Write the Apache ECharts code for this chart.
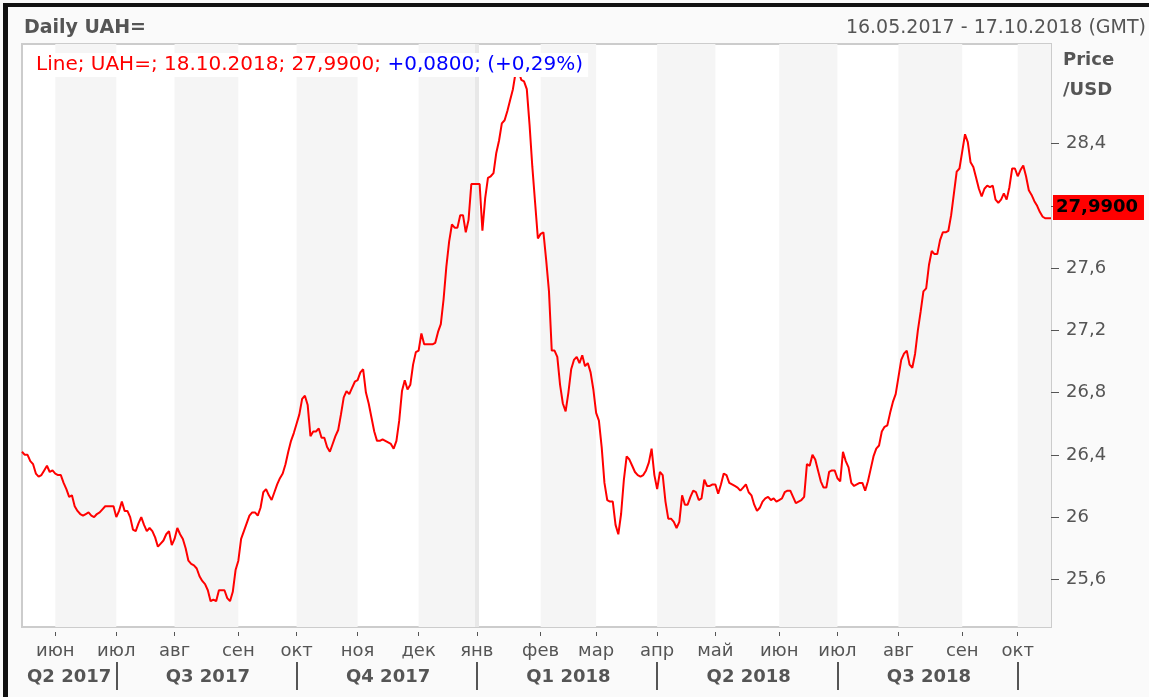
<!DOCTYPE html>
<html>
<head>
<meta charset="utf-8">
<title>Daily UAH=</title>
<script src="https://cdn.jsdelivr.net/npm/echarts@6/dist/echarts.min.js"></script>
<style>
  html, body { margin: 0; padding: 0; background: #fff; }
  #chart { width: 1149px; height: 697px; }
</style>
</head>
<body>
<div id="chart"></div>
<script>
// range shown on the chart (weekdays only)
const startDate = '2017-05-16';
const endDate = '2018-10-17';

const monthNames = ['янв', 'фев', 'мар', 'апр', 'май', 'июн', 'июл', 'авг', 'сен', 'окт', 'ноя', 'дек'];

// daily closes, UAH per USD
const rates = [
  26.42, 26.40, 26.40, 26.36, 26.34, 26.28, 26.26, 26.27, 26.30, 26.33,
  26.29, 26.30, 26.28, 26.27, 26.27, 26.22, 26.18, 26.13, 26.14, 26.07,
  26.04, 26.02, 26.01, 26.02, 26.03, 26.01, 26.00, 26.02, 26.03, 26.05,
  26.07, 26.07, 26.07, 26.07, 26.00, 26.04, 26.10, 26.04, 26.04, 26.00,
  25.92, 25.91, 25.96, 26.00, 25.95, 25.91, 25.93, 25.91, 25.87, 25.81,
  25.83, 25.85, 25.89, 25.91, 25.82, 25.86, 25.93, 25.89, 25.86, 25.80,
  25.72, 25.70, 25.69, 25.67, 25.62, 25.59, 25.57, 25.53, 25.46, 25.47,
  25.46, 25.53, 25.53, 25.53, 25.48, 25.46, 25.52, 25.66, 25.72, 25.86,
  25.91, 25.96, 26.01, 26.03, 26.03, 26.01, 26.06, 26.16, 26.18, 26.14,
  26.11, 26.16, 26.21, 26.25, 26.28, 26.34, 26.42, 26.49, 26.54, 26.60,
  26.66, 26.76, 26.78, 26.72, 26.52, 26.55, 26.55, 26.57, 26.51, 26.51,
  26.45, 26.42, 26.47, 26.52, 26.56, 26.66, 26.77, 26.81, 26.79, 26.83,
  26.87, 26.88, 26.93, 26.95, 26.80, 26.73, 26.64, 26.55, 26.49, 26.49,
  26.50, 26.49, 26.48, 26.47, 26.44, 26.49, 26.62, 26.81, 26.88, 26.82,
  26.85, 26.98, 27.06, 27.07, 27.18, 27.11, 27.11, 27.11, 27.11, 27.12,
  27.19, 27.24, 27.40, 27.61, 27.77, 27.88, 27.86, 27.86, 27.94, 27.94,
  27.83, 27.91, 28.14, 28.14, 28.14, 28.14, 27.84, 28.05, 28.18, 28.19,
  28.21, 28.34, 28.42, 28.53, 28.55, 28.61, 28.68, 28.75, 28.86, 28.87,
  28.81, 28.80, 28.75, 28.52, 28.25, 28.02, 27.79, 27.82, 27.83, 27.65,
  27.45, 27.07, 27.07, 27.03, 26.85, 26.73, 26.68, 26.80, 26.95, 27.01,
  27.03, 26.99, 27.04, 26.97, 26.99, 26.93, 26.82, 26.67, 26.62, 26.45,
  26.22, 26.11, 26.10, 26.10, 25.95, 25.89, 26.02, 26.24, 26.39, 26.37,
  26.33, 26.29, 26.27, 26.26, 26.27, 26.30, 26.35, 26.44, 26.27, 26.18,
  26.29, 26.27, 26.10, 25.99, 25.99, 25.97, 25.93, 25.97, 26.14, 26.08,
  26.08, 26.13, 26.17, 26.16, 26.11, 26.12, 26.24, 26.20, 26.20, 26.21,
  26.21, 26.15, 26.21, 26.28, 26.27, 26.22, 26.21, 26.20, 26.19, 26.17,
  26.19, 26.21, 26.16, 26.14, 26.08, 26.04, 26.06, 26.10, 26.12, 26.13,
  26.11, 26.12, 26.10, 26.11, 26.12, 26.16, 26.17, 26.17, 26.13, 26.09,
  26.10, 26.11, 26.13, 26.34, 26.33, 26.40, 26.37, 26.30, 26.23, 26.19,
  26.19, 26.29, 26.30, 26.30, 26.25, 26.23, 26.42, 26.36, 26.32, 26.22,
  26.20, 26.21, 26.22, 26.22, 26.17, 26.23, 26.31, 26.39, 26.44, 26.46,
  26.55, 26.58, 26.59, 26.67, 26.74, 26.79, 26.90, 27.01, 27.05, 27.07,
  26.98, 26.96, 27.05, 27.20, 27.32, 27.45, 27.47, 27.62, 27.71, 27.69,
  27.69, 27.78, 27.83, 27.83, 27.84, 27.94, 28.08, 28.22, 28.24, 28.35,
  28.46, 28.41, 28.28, 28.25, 28.18, 28.11, 28.06, 28.11, 28.13, 28.12,
  28.13, 28.04, 28.02, 28.04, 28.08, 28.04, 28.12, 28.24, 28.24, 28.19,
  28.23, 28.26, 28.19, 28.10, 28.07, 28.03, 28.00, 27.96, 27.93, 27.92,
  27.92, 27.92
];

const yTicks = [25.6, 26, 26.4, 26.8, 27.2, 27.6, 28, 28.4];
const yMin = 25.294;
const yMax = 29.04;
const lastQuote = 27.99;
const lastQuoteText = '27,9900';
const legendRed = 'Line; UAH=; 18.10.2018; 27,9900; ';
const legendBlue = '+0,0800; (+0,29%)';

const FONT = 'DejaVu Sans';
const GREY = '#555';

// weekday categories
const dates = [];
for (let d = new Date(startDate + 'T00:00:00Z'); d <= new Date(endDate + 'T00:00:00Z'); d.setUTCDate(d.getUTCDate() + 1)) {
  const wd = d.getUTCDay();
  if (wd !== 0 && wd !== 6) dates.push(d.toISOString().slice(0, 10));
}

// first weekday of every month / quarter
const monthStart = dates.map((s, i) => i > 0 && s.slice(5, 7) !== dates[i - 1].slice(5, 7));
const quarterStart = dates.map((s, i) => monthStart[i] && (parseInt(s.slice(5, 7)) - 1) % 3 === 0);

const qBounds = [0];
quarterStart.forEach((q, i) => { if (q) qBounds.push(i); });
qBounds.push(dates.length - 1);
const quarterMid = {};
for (let k = 0; k < qBounds.length - 1; k++) {
  if (qBounds[k + 1] - qBounds[k] < 20) continue;
  quarterMid[Math.round((qBounds[k] + qBounds[k + 1]) / 2)] = true;
}

// alternating month bands, starting with June 2017 shaded
const mIdx = [];
monthStart.forEach((m, i) => { if (m) mIdx.push(i); });
const bands = [];
for (let k = 0; k < mIdx.length; k += 2) {
  const end = k + 1 < mIdx.length ? mIdx[k + 1] : dates.length - 1;
  bands.push([{ xAxis: dates[mIdx[k]] }, { xAxis: dates[end] }]);
}
const yearStart = dates.find((s, i) => monthStart[i] && s.slice(5, 7) === '01');

const chart = echarts.init(document.getElementById('chart'));
chart.setOption({
  animation: false,
  backgroundColor: '#fafafa',
  textStyle: { fontFamily: FONT },
  title: [
    { text: 'Daily UAH=', left: 24, top: 19, padding: 0,
      textStyle: { fontFamily: FONT, fontSize: 19, fontWeight: 'bold', color: GREY } },
    { text: startDate.split('-').reverse().join('.') + ' - ' + endDate.split('-').reverse().join('.') + ' (GMT)',
      right: 3, top: 19, padding: 0,
      textStyle: { fontFamily: FONT, fontSize: 19, fontWeight: 'normal', color: GREY } },
    { text: 'Price', left: 1063, top: 51, padding: 0,
      textStyle: { fontFamily: FONT, fontSize: 18, fontWeight: 'bold', color: GREY } },
    { text: '/USD', left: 1063, top: 81, padding: 0,
      textStyle: { fontFamily: FONT, fontSize: 18, fontWeight: 'bold', color: GREY } },
    { text: '{r|' + legendRed + '}{b|' + legendBlue + '}', left: 30, top: 53,
      padding: [2, 5, 2, 6], backgroundColor: '#fff',
      textStyle: { rich: {
        r: { fontFamily: FONT, fontSize: 20, fontWeight: 'normal', color: '#f00' },
        b: { fontFamily: FONT, fontSize: 20, fontWeight: 'normal', color: '#00f' }
      } } }
  ],
  grid: { left: 22, right: 98, top: 44, bottom: 70, show: true,
    backgroundColor: '#fff', borderColor: '#ccc', borderWidth: 2 },
  xAxis: [
    { type: 'category', data: dates, boundaryGap: false, offset: 5,
      axisLine: { show: false },
      axisTick: { interval: (i) => monthStart[i], length: 4, lineStyle: { color: GREY } },
      axisLabel: { interval: (i) => monthStart[i], margin: 10, fontSize: 18, color: GREY, fontFamily: FONT,
        formatter: (v) => monthNames[parseInt(v.slice(5, 7)) - 1] },
      splitLine: { show: false } },
    { type: 'category', data: dates, boundaryGap: false, position: 'bottom', offset: 35,
      axisLine: { show: false },
      axisTick: { interval: (i) => quarterStart[i], length: 28, lineStyle: { color: GREY, width: 2 } },
      axisLabel: { interval: (i) => !!quarterMid[i], margin: 6, fontSize: 18, fontWeight: 'bold', color: GREY, fontFamily: FONT,
        formatter: (v) => 'Q' + (Math.floor((parseInt(v.slice(5, 7)) - 1) / 3) + 1) + ' ' + v.slice(0, 4) },
      splitLine: { show: false } }
  ],
  yAxis: {
    type: 'value', position: 'right', min: yMin, max: yMax,
    axisLine: { show: false },
    axisTick: { show: true, length: 8, customValues: yTicks, lineStyle: { color: GREY } },
    axisLabel: { customValues: yTicks, margin: 15, fontSize: 18, color: GREY, fontFamily: FONT,
      formatter: (v) => String(+v.toFixed(1)).replace('.', ',') },
    splitLine: { show: false }
  },
  series: [
    { type: 'line', data: [], silent: true,
      markLine: { z: 1.5, silent: true, symbol: ['none', 'none'], label: { show: false },
        lineStyle: { color: '#e8e8e8', width: 4, type: 'solid' },
        data: [{ xAxis: yearStart }] } },
    { type: 'line', data: rates, symbol: 'none', z: 3,
      lineStyle: { color: '#ff0000', width: 2 },
      markArea: { silent: true, itemStyle: { color: '#f5f5f5' }, data: bands },
      markLine: { silent: true, symbol: ['none', 'none'],
        lineStyle: { color: 'rgba(0,0,0,0)', width: 0 },
        label: { position: 'end', distance: 2, formatter: lastQuoteText, backgroundColor: '#ff0000',
          color: '#000', fontWeight: 'bold', fontSize: 18, fontFamily: FONT, padding: [4, 6, 3, 3] },
        data: [{ yAxis: lastQuote }] } }
  ],
  graphic: [
    { type: 'rect', shape: { x: 3, y: 3, width: 1146, height: 4 }, style: { fill: '#111' } },
    { type: 'rect', shape: { x: 3, y: 3, width: 5, height: 694 }, style: { fill: '#111' } }
  ]
});
</script>
</body>
</html>
